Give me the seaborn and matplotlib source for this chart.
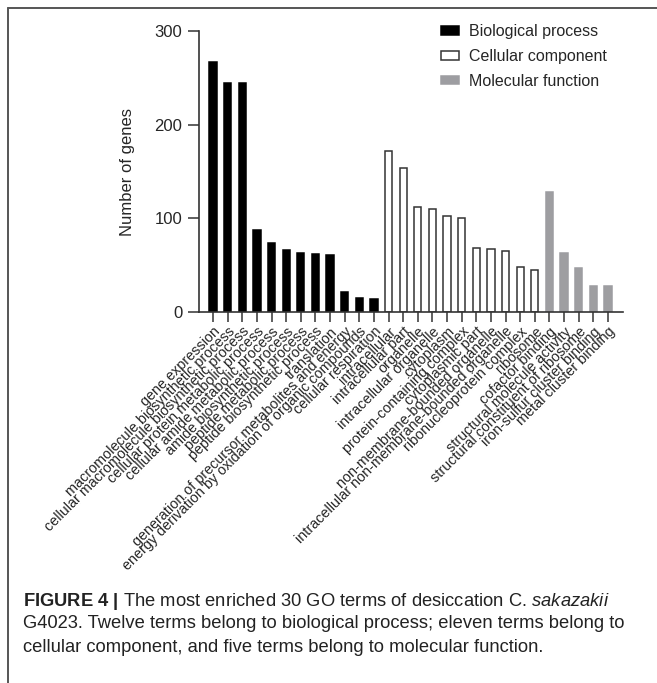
import numpy as np
import pandas as pd
import matplotlib
matplotlib.use('Agg')
import matplotlib.pyplot as plt
import seaborn as sns
from matplotlib.lines import Line2D
from matplotlib.patches import Patch

# GO terms and gene counts
bp_terms = ['gene expression', 'macromolecule biosynthetic process',
            'cellular macromolecule biosynthetic process', 'cellular protein metabolic process',
            'cellular amide metabolic process', 'amide biosynthetic process',
            'peptide metabolic process', 'peptide biosynthetic process', 'translation',
            'generation of precursor metabolites and energy',
            'energy derivation by oxidation of organic compounds', 'cellular respiration']
bp_counts = [267, 245, 244, 88, 74, 66, 63, 62, 61, 21, 15, 14]

cc_terms = ['intracellular', 'intracellular part', 'organelle', 'intracellular organelle',
            'cytoplasm', 'protein-containing complex', 'cytoplasmic part',
            'non-membrane-bounded organelle', 'intracellular non-membrane-bounded organelle',
            'ribonucleoprotein complex', 'ribosome']
cc_counts = [172, 154, 112, 110, 103, 100, 68, 67, 65, 48, 45]

mf_terms = ['cofactor binding', 'structural molecule activity',
            'structural constituent of ribosome', 'iron-sulfur cluster binding',
            'metal cluster binding']
mf_counts = [128, 63, 47, 28, 28]

categories = ['Biological process', 'Cellular component', 'Molecular function']

df = pd.DataFrame({
    'term': bp_terms + cc_terms + mf_terms,
    'count': bp_counts + cc_counts + mf_counts,
    'category': [categories[0]] * len(bp_terms) + [categories[1]] * len(cc_terms)
                + [categories[2]] * len(mf_terms),
})

sns.set_style('ticks')
plt.rcParams['font.family'] = ['Liberation Sans', 'DejaVu Sans']
plt.rcParams['mathtext.fontset'] = 'custom'
plt.rcParams['mathtext.rm'] = 'Liberation Sans'
plt.rcParams['mathtext.it'] = 'Liberation Sans:italic'
plt.rcParams['mathtext.bf'] = 'Liberation Sans:bold'

W, H = 657, 683
fig = plt.figure(figsize=(W / 100, H / 100), dpi=100)
ax = fig.add_axes([199 / W, 1 - 312 / H, (623 - 199) / W, (312 - 31) / H])

face = {categories[0]: 'black', categories[1]: 'white', categories[2]: '#9d9da1'}
edge = {categories[0]: 'black', categories[1]: '#333333', categories[2]: '#9d9da1'}
sns.barplot(data=df, x='term', y='count', hue='category', palette=face,
            dodge=False, width=0.5, ax=ax, legend=False)

# edge colours per bar
bars = sorted(ax.patches, key=lambda p: p.get_x())
for bar, cat in zip(bars, df['category']):
    bar.set_edgecolor(edge[cat])
    bar.set_linewidth(1.1)

ax.set_xlim(-0.96, 28.03)
ax.set_ylim(0, 300)
ax.set_yticks([0, 100, 200, 300])
ax.set_xlabel('')
ax.set_ylabel('Number of genes', fontsize=12, labelpad=14)
ax.tick_params(axis='y', length=8, width=1.1, pad=4, labelsize=12, color='#333333')
ax.tick_params(axis='x', length=7, width=1.1, pad=2, labelsize=10.4, color='#333333')
ax.set_xticks(range(len(df)))
ax.set_xticklabels(df['term'], rotation=45, ha='right', rotation_mode='anchor')
sns.despine(ax=ax)
for s in ['left', 'bottom']:
    ax.spines[s].set_linewidth(1.2)
    ax.spines[s].set_color('#333333')

# legend
handles = [Patch(facecolor=face[c], edgecolor=edge[c], linewidth=1.1) for c in categories]
fig.legend(handles, categories, loc='upper left', bbox_to_anchor=(441 / W, 1 - 24 / H),
           frameon=False, fontsize=11.5, handlelength=1.1, handleheight=0.45,
           handletextpad=0.65, labelspacing=0.62, borderpad=0, borderaxespad=0)

# caption
cap_kw = dict(fontsize=13.2, color='#222222', va='center', ha='left')
fig.text(23 / W, 1 - 601 / H,
         r'$\mathbf{FIGURE\ 4\ |}$ The most enriched 30 GO terms of desiccation C. $\mathit{sakazakii}$',
         **cap_kw)
fig.text(23 / W, 1 - 624 / H,
         'G4023. Twelve terms belong to biological process; eleven terms belong to', **cap_kw)
fig.text(23 / W, 1 - 647 / H,
         'cellular component, and five terms belong to molecular function.', **cap_kw)

# frame lines (top and left)
fig.add_artist(Line2D([8 / W, 1], [1 - 8 / H, 1 - 8 / H], color='#555555', lw=1.4))
fig.add_artist(Line2D([8 / W, 8 / W], [0, 1 - 8 / H], color='#555555', lw=1.4))

fig.savefig('out.png', dpi=100)
